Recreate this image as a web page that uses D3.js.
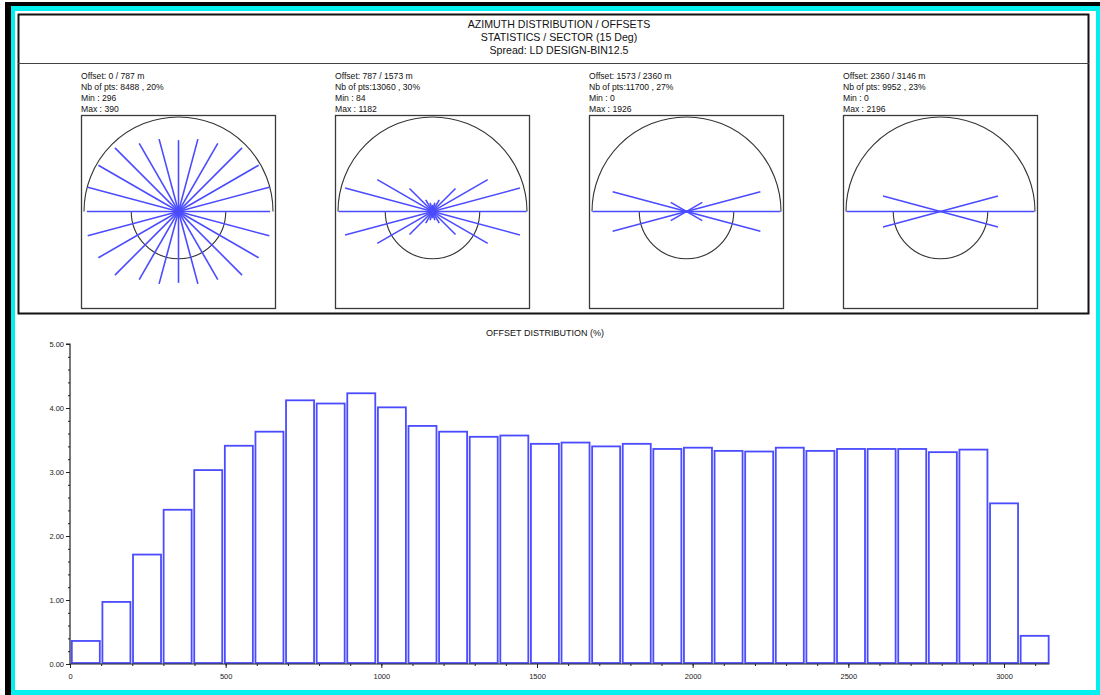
<!DOCTYPE html>
<html>
<head>
<meta charset="utf-8">
<script src="https://cdn.jsdelivr.net/npm/d3@7"></script>
<style>
  html, body { margin: 0; padding: 0; background: #fff; }
  svg { display: block; font-family: Arial, "Liberation Sans", sans-serif; }
</style>
</head>
<body>
<svg id="chart" width="1100" height="695"></svg>
<script>
// ---- Header text ----
const headerLines = ["AZIMUTH DISTRIBUTION / OFFSETS", "STATISTICS / SECTOR (15 Deg)", "Spread: LD DESIGN-BIN12.5"];

// ---- Azimuth rose panels (one per offset class) ----
const offsetLabels = ["Offset: 0 / 787 m", "Offset: 787 / 1573 m", "Offset: 1573 / 2360 m", "Offset: 2360 / 3146 m"];
const pointLabels = ["Nb of pts: 8488 , 20%", "Nb of pts:13060 , 30%", "Nb of pts:11700 , 27%", "Nb of pts: 9952 , 23%"];
const minLabels = ["Min : 296", "Min : 84", "Min : 0", "Min : 0"];
const maxLabels = ["Max : 390", "Max : 1182", "Max : 1926", "Max : 2196"];
const sectorMax = [390, 1182, 1926, 2196];
// trace counts per 15-degree sector, azimuth 0..165 (the opposite sector carries the same count)
const sectorAngles = [0, 15, 30, 45, 60, 75, 90, 105, 120, 135, 150, 165];
const sectors1 = [380, 390, 384, 373, 326, 311, 296, 311, 326, 373, 384, 390];
const sectors2 = [1182, 1138, 802, 409, 170, 113, 84, 113, 170, 409, 802, 1138];
const sectors3 = [1926, 1567, 373, 14, 8, 0, 0, 0, 8, 14, 373, 1567];
const sectors4 = [2196, 1390, 0, 0, 0, 0, 0, 0, 0, 0, 0, 1390];

// ---- Offset histogram ----
const offsetMax = 3146;
const binCount = 32;
const offsetPercent = [0.36, 0.97, 1.71, 2.41, 3.03, 3.41, 3.63, 4.12,
                       4.07, 4.23, 4.01, 3.72, 3.63, 3.55, 3.57, 3.44,
                       3.46, 3.40, 3.44, 3.36, 3.38, 3.33, 3.32, 3.38,
                       3.33, 3.36, 3.36, 3.36, 3.31, 3.35, 2.51, 0.44];
const yTickLabels = ["0.00", "1.00", "2.00", "3.00", "4.00", "5.00"];
const xTickLabels = ["0", "500", "1000", "1500", "2000", "2500", "3000"];

const svg = d3.select("#chart");
const BLUE = "#4b4bff";

// ---- window frame ----
svg.append("rect").attr("x", 0).attr("y", 0).attr("width", 1100).attr("height", 695).attr("fill", "#fff");
svg.append("rect").attr("x", 11).attr("y", 6).attr("width", 1089).attr("height", 689).attr("fill", "#00f0f0");
svg.append("rect").attr("x", 15).attr("y", 11).attr("width", 1081).attr("height", 679).attr("fill", "#fff");
svg.append("rect").attr("x", 5).attr("y", 2).attr("width", 6).attr("height", 693).attr("fill", "#000");
svg.append("rect").attr("x", 5).attr("y", 2).attr("width", 1095).attr("height", 4).attr("fill", "#000");

// top panel box and header separator
svg.append("rect").attr("x", 18.5).attr("y", 14.5).attr("width", 1070).attr("height", 299)
  .attr("fill", "none").attr("stroke", "#111").attr("stroke-width", 2);
svg.append("line").attr("x1", 18).attr("x2", 1089).attr("y1", 63.5).attr("y2", 63.5)
  .attr("stroke", "#444").attr("stroke-width", 1);

svg.append("g").selectAll("text").data(headerLines).join("text")
  .attr("x", 559).attr("y", (d, i) => 28 + i * 13)
  .attr("text-anchor", "middle").attr("font-size", 10.6).attr("fill", "#111")
  .text(d => d);

// ---- rose panels ----
const allSectors = [sectors1, sectors2, sectors3, sectors4];
const panelX = d3.scaleLinear().domain([0, 1]).range([81, 335]);
const boxSize = 194;
const outerR = 94.5;

allSectors.forEach((vals, p) => {
  const x0 = panelX(p);
  const g = svg.append("g").attr("transform", `translate(${x0},0)`);
  const info = [offsetLabels[p], pointLabels[p], minLabels[p], maxLabels[p]];
  g.selectAll("text").data(info).join("text")
    .attr("x", 0).attr("y", (d, i) => 79 + i * 11)
    .attr("font-size", 8.6).attr("fill", "#111").text(d => d);

  const top = 115;
  g.append("rect").attr("x", 0.5).attr("y", top + 0.5).attr("width", boxSize).attr("height", boxSize - 1)
    .attr("fill", "none").attr("stroke", "#3a3a3a").attr("stroke-width", 1.3);

  const cx = boxSize / 2 + 0.5, cy = top + boxSize / 2 - 0.5;
  const c = g.append("g").attr("transform", `translate(${cx},${cy})`);

  // upper half circle and lower half circle at half radius
  const arcUpper = d3.arc().innerRadius(outerR).outerRadius(outerR).startAngle(-Math.PI / 2).endAngle(Math.PI / 2);
  const arcLower = d3.arc().innerRadius(outerR / 2).outerRadius(outerR / 2).startAngle(Math.PI / 2).endAngle(3 * Math.PI / 2);
  c.append("path").attr("d", arcUpper()).attr("fill", "none").attr("stroke", "#333").attr("stroke-width", 1.1);
  c.append("path").attr("d", arcLower()).attr("fill", "none").attr("stroke", "#333").attr("stroke-width", 1.1);

  const r = d3.scaleLinear().domain([0, sectorMax[p]]).range([0, outerR - 0.5]);
  const rays = [];
  vals.forEach((v, i) => {
    if (v <= 0) return;
    const a = sectorAngles[i] * Math.PI / 180;
    const L = r(v);
    rays.push({x1: -L * Math.cos(a), y1: L * Math.sin(a), x2: L * Math.cos(a), y2: -L * Math.sin(a)});
  });
  c.selectAll("line.ray").data(rays).join("line").attr("class", "ray")
    .attr("x1", d => d.x1).attr("y1", d => d.y1).attr("x2", d => d.x2).attr("y2", d => d.y2)
    .attr("stroke", BLUE).attr("stroke-width", 1.6);
});

// ---- histogram ----
svg.append("text").attr("x", 545).attr("y", 336).attr("text-anchor", "middle")
  .attr("font-size", 9).attr("fill", "#111").text("OFFSET DISTRIBUTION (%)");

const x = d3.scaleLinear().domain([0, 3000]).range([70, 1004]);
const y = d3.scaleLinear().domain([0, 5]).range([664, 344]);
const binW = offsetMax / binCount;
const bins = offsetPercent.map((v, i) => ({x0: i * binW, x1: (i + 1) * binW, v}));

svg.append("g").selectAll("rect").data(bins).join("rect")
  .attr("x", d => x(d.x0) + 1.8)
  .attr("y", d => y(d.v))
  .attr("width", d => x(d.x1) - x(d.x0) - 2.6)
  .attr("height", d => y(0) - y(d.v) - 1)
  .attr("fill", "#fff").attr("stroke", BLUE).attr("stroke-width", 1.8);

// y axis
const yAxis = d3.axisLeft(y).tickValues(d3.range(0, 6)).tickFormat((d, i) => yTickLabels[i]).tickSize(4).tickPadding(2);
const gy = svg.append("g").attr("transform", "translate(70,0)").call(yAxis);
const yMinor = d3.axisLeft(y).tickValues(d3.range(0, 5.01, 0.2)).tickFormat("").tickSize(2);
svg.append("g").attr("transform", "translate(70,0)").call(yMinor).select(".domain").remove();

// x axis
const xAxis = d3.axisBottom(x).tickValues(d3.range(0, 3001, 500)).tickFormat((d, i) => xTickLabels[i]).tickSize(4).tickPadding(6);
const gx = svg.append("g").attr("transform", "translate(0,664)").call(xAxis);
const xMinor = d3.axisBottom(x).tickValues(d3.range(0, 3101, 100)).tickFormat("").tickSize(2);
svg.append("g").attr("transform", "translate(0,664)").call(xMinor).select(".domain").remove();

[gy, gx].forEach(g => {
  g.select(".domain").attr("stroke", "#222").attr("stroke-width", 1.2);
  g.selectAll(".tick text").attr("font-size", 7.5).attr("fill", "#222").attr("font-family", "Arial, 'Liberation Sans', sans-serif");
});
gy.select(".domain").attr("d", `M-4,${y(5)}H0V${y(0)}`);
gx.select(".domain").attr("d", `M${x(0)},0H${x(offsetMax)}`);
svg.selectAll("g .tick line").attr("stroke", "#222");
</script>
</body>
</html>
